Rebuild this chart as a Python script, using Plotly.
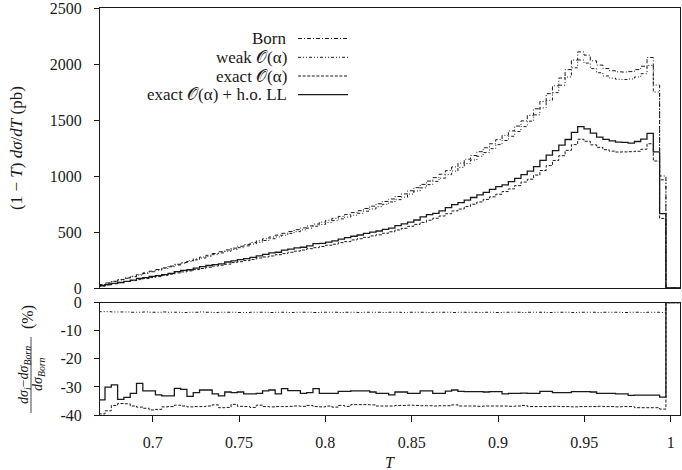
import plotly.graph_objects as go

# ---------------- data ----------------
T_START = 0.66875   # lower edge of first bin
BIN_W = 0.00365     # bin width

born = [30, 45, 60, 75, 90, 105, 120, 135, 150, 165,
        180, 196, 212, 228, 244, 260, 276, 292, 308, 324,
        340, 356, 373, 389, 406, 422, 439, 455, 472, 488,
        505, 521, 537, 554, 571, 588, 605, 622, 639, 656,
        673, 690, 710, 731, 752, 773, 795, 817, 840, 868,
        896, 925, 955, 985, 1016, 1048, 1081, 1115, 1150, 1183,
        1217, 1252, 1288, 1325, 1363, 1403, 1446, 1492, 1542, 1600,
        1665, 1735, 1805, 1875, 1950, 2035, 2108, 2079, 2028, 1990,
        1960, 1940, 1930, 1928, 1932, 1950, 1980, 2058, 1812, 1000]

weak = [29, 43, 58, 72, 87, 101, 116, 130, 145, 159,
        174, 189, 205, 220, 236, 251, 267, 282, 298, 313,
        328, 344, 360, 376, 392, 408, 424, 440, 456, 471,
        488, 503, 519, 535, 552, 568, 584, 601, 617, 634,
        650, 667, 686, 706, 726, 747, 768, 789, 811, 838,
        866, 894, 923, 952, 981, 1012, 1044, 1077, 1111, 1143,
        1176, 1209, 1244, 1280, 1317, 1355, 1397, 1441, 1490, 1546,
        1608, 1676, 1744, 1811, 1884, 1966, 2036, 2008, 1959, 1922,
        1893, 1874, 1864, 1862, 1866, 1884, 1913, 1988, 1750, 966]

exact = [18, 28, 38, 48, 58, 66, 75, 84, 93, 102,
         113, 123, 135, 144, 153, 164, 174, 185, 196, 203,
         213, 227, 235, 245, 255, 268, 277, 286, 297, 307,
         319, 329, 339, 351, 360, 370, 382, 391, 405, 414,
         429, 440, 452, 465, 475, 489, 502, 518, 533, 551,
         568, 586, 605, 623, 643, 663, 688, 705, 727, 748,
         768, 791, 814, 837, 861, 885, 914, 946, 971, 1008,
         1049, 1093, 1139, 1181, 1229, 1280, 1328, 1310, 1278, 1256,
         1235, 1222, 1214, 1215, 1217, 1221, 1239, 1288, 1134, 621]

exact_ll = [20, 31, 42, 49, 60, 71, 86, 93, 103, 111,
            120, 131, 147, 158, 163, 177, 190, 201, 208, 216,
            232, 242, 254, 263, 274, 286, 301, 313, 319, 339,
            347, 358, 364, 377, 396, 398, 410, 421, 437, 449,
            462, 473, 487, 499, 509, 523, 534, 557, 573, 588,
            607, 635, 655, 667, 688, 718, 745, 763, 785, 808,
            831, 854, 880, 905, 920, 950, 979, 1012, 1044, 1083,
            1139, 1187, 1227, 1275, 1326, 1390, 1440, 1420, 1383, 1347,
            1327, 1313, 1303, 1301, 1294, 1308, 1329, 1381, 1216, 664]

# relative deviation from Born, in %
r_weak = [-3.2, -3.2, -3.3, -3.3, -3.3, -3.4, -3.4, -3.3, -3.4, -3.4,
          -3.3, -3.4, -3.4, -3.5, -3.4, -3.4, -3.3, -3.4, -3.5, -3.4,
          -3.4, -3.4, -3.5, -3.5, -3.4, -3.4, -3.4, -3.5, -3.4, -3.4,
          -3.5, -3.4, -3.4, -3.4, -3.5, -3.4, -3.4, -3.4, -3.5, -3.4,
          -3.4, -3.5, -3.4, -3.4, -3.4, -3.5, -3.4, -3.4, -3.5, -3.4,
          -3.4, -3.4, -3.5, -3.4, -3.4, -3.4, -3.5, -3.4, -3.4, -3.4,
          -3.5, -3.4, -3.4, -3.5, -3.4, -3.4, -3.4, -3.5, -3.4, -3.4,
          -3.4, -3.5, -3.4, -3.4, -3.4, -3.5, -3.4, -3.4, -3.4, -3.5,
          -3.4, -3.4, -3.4, -3.5, -3.4, -3.4, -3.5, -3.4, -3.4, -3.5]

r_exact = [-39.6, -38.5, -36.6, -35.9, -36.0, -36.8, -37.2, -37.6, -38.2, -38.0,
           -37.1, -37.0, -36.5, -36.8, -37.1, -37.0, -37.0, -36.8, -36.4, -37.4,
           -37.3, -36.2, -36.9, -37.0, -37.3, -36.5, -37.0, -37.1, -37.0, -37.0,
           -36.9, -36.8, -36.9, -36.6, -37.0, -37.1, -36.8, -37.2, -36.6, -36.9,
           -36.3, -36.3, -36.3, -36.4, -36.8, -36.8, -36.8, -36.6, -36.6, -36.5,
           -36.6, -36.7, -36.7, -36.8, -36.7, -36.7, -36.4, -36.8, -36.8, -36.8,
           -36.9, -36.8, -36.8, -36.8, -36.8, -36.9, -36.8, -36.6, -37.0, -37.0,
           -37.0, -37.0, -36.9, -37.0, -37.0, -37.1, -37.0, -37.0, -37.0, -36.9,
           -37.0, -37.0, -37.1, -37.0, -37.0, -37.4, -37.4, -37.4, -37.4, -37.9]

r_ll = [-34.6, -30.1, -29.3, -34.4, -33.7, -32.3, -28.7, -31.4, -31.4, -32.8,
        -33.2, -33.2, -30.5, -30.9, -33.4, -32.0, -31.1, -31.1, -32.5, -33.2,
        -31.8, -32.0, -31.8, -32.5, -32.5, -32.3, -31.4, -31.1, -32.5, -30.6,
        -31.3, -31.3, -32.3, -32.0, -30.6, -32.3, -32.3, -32.3, -31.6, -31.6,
        -31.4, -31.4, -31.4, -31.8, -32.3, -32.3, -32.8, -31.8, -31.8, -32.3,
        -32.3, -31.4, -31.4, -32.3, -32.3, -31.5, -31.1, -31.6, -31.7, -31.7,
        -31.7, -31.8, -31.7, -31.7, -32.5, -32.3, -32.3, -32.2, -32.3, -32.3,
        -31.6, -31.6, -32.0, -32.0, -32.0, -31.7, -31.7, -31.7, -31.8, -32.3,
        -32.3, -32.3, -32.5, -32.5, -33.0, -32.9, -32.9, -32.9, -32.9, -33.6]

labels = ["Born", "weak 𝒪(α)", "exact 𝒪(α)", "exact 𝒪(α) + h.o. LL"]
x_ticks = [0.7, 0.75, 0.8, 0.85, 0.9, 0.95, 1.0]
x_ticktext = ["0.7", "0.75", "0.8", "0.85", "0.9", "0.95", "1"]
y1_ticks = [0, 500, 1000, 1500, 2000, 2500]
y2_ticks = [0, -10, -20, -30, -40]
y2_ticktext = ["0", "-10", "-20", "-30", "-40"]

# ---------------- styling ----------------
W, H = 682, 470
ML, MR, MT, MB = 100, 2, 8, 55
PW, PH = W - ML - MR, H - MT - MB
X_MIN, X_MAX = 0.6695, 1.0054

def px(x):  # pixel x -> paper
    return (x - ML) / PW

def py(y):  # pixel y -> paper
    return (H - MB - y) / PH

FONT = "Liberation Serif"
INK = "#1a1a1a"
dashes = ["4px,2px,1px,2px", "3px,2px,1px,2px,1px,2px", "3px,1.6px", "solid"]
widths = [1.0, 1.0, 1.0, 1.3]

n = len(born)
edges = [T_START + i * BIN_W for i in range(n + 1)]
x_step = edges + [X_MAX + 0.02]

def step_y(vals):
    return list(vals) + [0, 0]

fig = go.Figure()
for vals, dsh, wd in zip([born, weak, exact, exact_ll], dashes, widths):
    fig.add_trace(go.Scatter(x=x_step, y=step_y(vals), mode="lines",
                             line=dict(shape="hv", color=INK, width=wd, dash=dsh),
                             xaxis="x", yaxis="y", showlegend=False, hoverinfo="skip"))
for vals, dsh, wd in zip([r_weak, r_exact, r_ll], dashes[1:], widths[1:]):
    fig.add_trace(go.Scatter(x=x_step, y=step_y(vals), mode="lines",
                             line=dict(shape="hv", color=INK, width=wd, dash=dsh),
                             xaxis="x2", yaxis="y2", showlegend=False, hoverinfo="skip"))

top_lo = py(288)
bot_hi = py(302.7)

axis_common = dict(showgrid=False, zeroline=False, showline=True, linecolor=INK,
                   linewidth=1, mirror=True, automargin=False)
fig.update_layout(
    width=W, height=H,
    margin=dict(l=ML, r=MR, t=MT, b=MB, autoexpand=False),
    paper_bgcolor="white", plot_bgcolor="white",
    font=dict(family=FONT, size=16, color=INK),
    xaxis=dict(domain=[0, 1], range=[X_MIN, X_MAX], anchor="y",
               showticklabels=False, ticks="", **axis_common),
    yaxis=dict(domain=[top_lo, 1], range=[0, 2500], anchor="x",
               tickmode="array", tickvals=y1_ticks, ticks="outside", ticklen=5,
               tickcolor=INK, ticklabelstandoff=9, ticklabeloverflow="allow",
               **axis_common),
    xaxis2=dict(domain=[0, 1], range=[X_MIN, X_MAX], anchor="y2", matches="x",
                tickmode="array", tickvals=x_ticks, ticktext=x_ticktext,
                ticks="outside", ticklen=6, tickcolor=INK, ticklabelstandoff=7,
                ticklabeloverflow="allow", **axis_common),
    yaxis2=dict(domain=[0, bot_hi], range=[-40, 0], anchor="x2",
                tickmode="array", tickvals=y2_ticks, ticktext=y2_ticktext,
                ticks="outside", ticklen=5, tickcolor=INK, ticklabelstandoff=9,
                ticklabeloverflow="allow", **axis_common),
)

# legend (gnuplot style: right-aligned text, sample on the right)
rows = [38.5, 57.3, 76.0, 94.6]
shapes = []
annotations = []
for lab, dsh, wd, ry in zip(labels, dashes, widths, rows):
    annotations.append(dict(x=px(289), y=py(ry), xref="paper", yref="paper",
                            text=lab, showarrow=False, xanchor="right", yanchor="middle",
                            font=dict(family=FONT, size=17, color=INK)))
    shapes.append(dict(type="line", xref="paper", yref="paper",
                       x0=px(298), x1=px(348), y0=py(ry), y1=py(ry),
                       line=dict(color=INK, width=wd, dash=dsh)))

# axis titles
annotations.append(dict(x=px(17), y=py(148), xref="paper", yref="paper",
                        text="(1 − <i>T</i>) <i>dσ</i>/<i>dT</i> (pb)", textangle=-90,
                        showarrow=False, xanchor="center", yanchor="middle",
                        font=dict(family=FONT, size=17, color=INK)))
annotations.append(dict(x=px(390), y=py(462), xref="paper", yref="paper",
                        text="<i>T</i>", showarrow=False, xanchor="center", yanchor="middle",
                        font=dict(family=FONT, size=16, color=INK)))
# fraction title of ratio panel
annotations.append(dict(x=px(24), y=py(375), xref="paper", yref="paper",
                        text="<i>dσ</i><sub><i>i</i></sub>−<i>dσ</i><sub><i>Born</i></sub>",
                        textangle=-90, showarrow=False, xanchor="center", yanchor="middle",
                        font=dict(family=FONT, size=14, color=INK)))
annotations.append(dict(x=px(38), y=py(374), xref="paper", yref="paper",
                        text="<i>dσ</i><sub><i>Born</i></sub>",
                        textangle=-90, showarrow=False, xanchor="center", yanchor="middle",
                        font=dict(family=FONT, size=14, color=INK)))
shapes.append(dict(type="line", xref="paper", yref="paper",
                   x0=px(31), x1=px(31), y0=py(337), y1=py(413),
                   line=dict(color=INK, width=0.8)))
annotations.append(dict(x=px(28), y=py(317), xref="paper", yref="paper",
                        text="(%)", textangle=-90, showarrow=False,
                        xanchor="center", yanchor="middle",
                        font=dict(family=FONT, size=16, color=INK)))

fig.update_layout(shapes=shapes, annotations=annotations)
fig.write_html("out.html", config={"displayModeBar": False},
               post_script="document.body.style.margin='0';")
